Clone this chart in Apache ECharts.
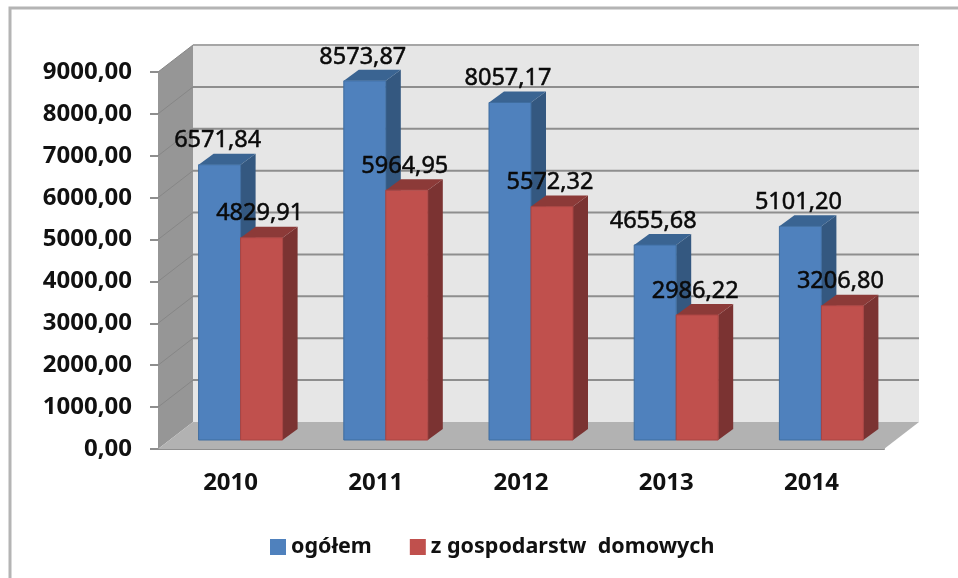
<!DOCTYPE html>
<html><head><meta charset="utf-8">
<style>html,body{margin:0;padding:0;background:#fff}#c{width:958px;height:578px}</style>
<script src="https://cdn.jsdelivr.net/npm/echarts@6/dist/echarts.min.js"></script>
</head><body><div id="c"></div>
<script>
const categories = ['2010','2011','2012','2013','2014'];
const ogolem = [6571.84,8573.87,8057.17,4655.68,5101.20];
const gospodarstw = [4829.91,5964.95,5572.32,2986.22,3206.80];
const yTicks = [0,1000,2000,3000,4000,5000,6000,7000,8000,9000];
const FONT = '"Noto Sans"';
const fmt = v => v.toFixed(2).replace('.',',');
const chart = echarts.init(document.getElementById('c'));
const WALL = {dx:35, dy:-27};
const BAR = {w:42, dx:15, dy:-11, sx:10, sy:-9};

function renderWalls(params, api){
  const g = params.coordSys;
  const x0=g.x, x1=g.x+g.width, yb=g.y+g.height;
  const {dx,dy}=WALL;
  const kids=[];
  const ytop=api.coord([0,yTicks[yTicks.length-1]])[1];
  kids.push({type:'polygon',shape:{points:[[x0+dx,ytop+dy],[x1+dx,ytop+dy],[x1+dx,yb+dy],[x0+dx,yb+dy]]},style:{fill:'#e6e6e6'}});
  kids.push({type:'polygon',shape:{points:[[x0,ytop],[x0+dx,ytop+dy],[x0+dx,yb+dy],[x0,yb]]},style:{fill:'#969696'}});
  kids.push({type:'polygon',shape:{points:[[x0,yb],[x0+dx,yb+dy],[x1+dx,yb+dy],[x1,yb]]},style:{fill:'#b2b2b2'}});
  yTicks.forEach(t=>{
    const y=api.coord([0,t])[1];
    if(t>0){
      kids.push({type:'polyline',shape:{points:[[x0+dx,y+dy],[x1+dx,y+dy]]},style:{fill:null,stroke:t===9000?'#a6a6a6':'#8e8e8e',lineWidth:2}});
      kids.push({type:'polyline',shape:{points:[[x0,y],[x0+dx,y+dy]]},style:{fill:null,stroke:'#868686',lineWidth:1}});
    }
  });
  return {type:'group',children:kids};
}

function barRenderer(front,edge,side,top,shift){
  return function(params,api){
    const i=api.value(0), v=api.value(1);
    const pTop=api.coord([i,v]), pBase=api.coord([i,0]);
    const cx=pTop[0]+BAR.sx+shift*BAR.w;
    const l=cx-BAR.w/2, r=cx+BAR.w/2;
    const t=pTop[1]+BAR.sy, b=pBase[1]+BAR.sy;
    const d=BAR.dx, e=BAR.dy;
    return {type:'group',children:[
      {type:'polygon',shape:{points:[[r,t],[r+d,t+e],[r+d,b+e],[r,b]]},style:{fill:side}},
      {type:'polygon',shape:{points:[[l,t],[l+d,t+e],[r+d,t+e],[r,t]]},style:{fill:top}},
      {type:'rect',shape:{x:l,y:t,width:BAR.w,height:b-t},style:{fill:front,stroke:edge,lineWidth:1}},
      {type:'text',z2:10,style:{text:fmt(v),x:cx-2,y:t-24,align:'center',verticalAlign:'middle',
        font:'23.5px '+FONT,fill:'#0a0a0a',stroke:'#0a0a0a',lineWidth:0.5}}
    ]};
  };
}
function toData(a){return a.map((v,i)=>[i,v]);}

chart.setOption({
  animation:false,
  backgroundColor:'#fff',
  grid:{left:158,right:74,top:72,bottom:129,containLabel:false},
  legend:{data:['ogółem','z gospodarstw  domowych'],left:265,top:531,icon:'rect',itemWidth:16,itemHeight:16,itemGap:38,
    textStyle:{fontFamily:FONT,fontWeight:'bold',fontSize:21.5,color:'#111'}},
  xAxis:{type:'category',data:categories,
    axisLine:{show:true,lineStyle:{color:'#8e8e8e',width:2}},axisTick:{show:false},
    axisLabel:{margin:22,fontFamily:FONT,fontWeight:'bold',fontSize:24,color:'#111'}},
  yAxis:{type:'value',min:0,max:9000,interval:1000,splitLine:{show:false},
    axisLine:{show:true,lineStyle:{color:'#8e8e8e',width:1}},
    axisTick:{show:true,length:8,lineStyle:{color:'#8e8e8e',width:2}},
    axisLabel:{margin:26,padding:[8,0,0,0],fontFamily:FONT,fontWeight:'bold',fontSize:24,color:'#111',formatter:v=>fmt(v)}},
  graphic:[
    {type:'polyline',silent:true,shape:{points:[[10,578],[10,8],[958,8]]},style:{fill:null,stroke:'#b4b4b4',lineWidth:3}}
  ],
  series:[
    {type:'custom',name:'tlo',z:1,data:[[0,0]],renderItem:renderWalls,silent:true,clip:false},
    {type:'custom',name:'ogółem',z:3,data:toData(ogolem),itemStyle:{color:'#4f81bd',borderColor:'#3a6593'},
      renderItem:barRenderer('#4f81bd','#3f6d9f','#345880','#3a6492',-0.5),clip:false,encode:{x:0,y:1}},
    {type:'custom',name:'z gospodarstw  domowych',z:4,data:toData(gospodarstw),itemStyle:{color:'#c0504d',borderColor:'#9c3f3d'},
      renderItem:barRenderer('#c0504d','#a84442','#7b3332','#8c3a38',0.5),clip:false,encode:{x:0,y:1}}
  ]
});
</script></body></html>
